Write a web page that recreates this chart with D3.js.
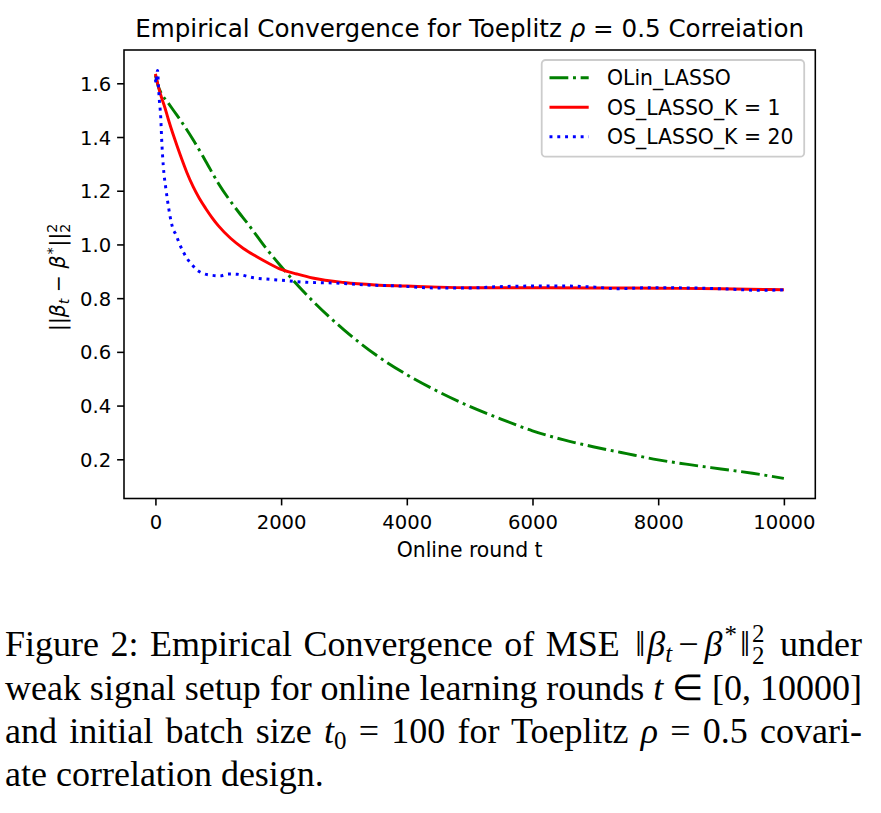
<!DOCTYPE html>
<html>
<head>
<meta charset="utf-8">
<script src="https://cdn.jsdelivr.net/npm/d3@7/dist/d3.min.js"></script>
<style>
  body { margin: 0; background: #ffffff; }
  svg { display: block; }
</style>
</head>
<body>
<svg id="chart" width="881" height="813"></svg>
<script>
// ---------------- DATA ----------------
const seriesNames = ["OLin_LASSO", "OS_LASSO_K = 1", "OS_LASSO_K = 20"];

const tOlin = [0, 50, 100, 200, 300, 400, 600, 800, 1000, 1250, 1500, 1750, 2000, 2500, 3000, 3500, 4000, 4500, 5000, 5500, 6000, 6500, 7000, 7500, 8000, 8500, 9000, 9500, 10000];
const olinLasso = [1.63, 1.585, 1.56, 1.528, 1.495, 1.462, 1.39, 1.31, 1.228, 1.143, 1.068, 0.989, 0.918, 0.79, 0.682, 0.59, 0.515, 0.452, 0.397, 0.35, 0.306, 0.272, 0.245, 0.221, 0.198, 0.18, 0.164, 0.148, 0.129];

const tK1 = [0, 50, 100, 150, 200, 300, 400, 500, 600, 700, 800, 900, 1000, 1200, 1400, 1600, 1800, 2000, 2250, 2500, 3000, 3500, 4000, 4500, 5000, 6000, 7000, 8000, 9000, 10000];
const osLassoK1 = [1.635, 1.585, 1.545, 1.51, 1.47, 1.397, 1.33, 1.268, 1.215, 1.171, 1.134, 1.1, 1.07, 1.022, 0.985, 0.956, 0.93, 0.907, 0.89, 0.875, 0.858, 0.849, 0.845, 0.841, 0.839, 0.839, 0.838, 0.837, 0.835, 0.831];

const tK20 = [0, 12, 24, 36, 46, 62, 84, 100, 126, 169, 216, 250, 285, 320, 380, 500, 600, 660, 750, 870, 1030, 1160, 1300, 1560, 1820, 2090, 2400, 2880, 3360, 3900, 4420, 5000, 5480, 6000, 6540, 7000, 7340, 7870, 8500, 9190, 9600, 10000];
const osLassoK20 = [1.615, 1.60, 1.64, 1.648, 1.60, 1.538, 1.476, 1.389, 1.29, 1.203, 1.128, 1.085, 1.054, 1.04, 1.004, 0.949, 0.92, 0.905, 0.893, 0.886, 0.883, 0.89, 0.889, 0.876, 0.87, 0.865, 0.859, 0.856, 0.849, 0.845, 0.838, 0.838, 0.843, 0.845, 0.845, 0.841, 0.835, 0.839, 0.838, 0.833, 0.829, 0.831];

const xTicks = [0, 2000, 4000, 6000, 8000, 10000];
const yTicks = [0.2, 0.4, 0.6, 0.8, 1.0, 1.2, 1.4, 1.6];

// ---------------- LAYOUT ----------------
const svg = d3.select("#chart");
const L = 124, R = 815.3, T = 50, B = 498.5;
const x = d3.scaleLinear().domain([-500, 10500]).range([L, R]);
const y = d3.scaleLinear().domain([0.054, 1.724]).range([B, T]);
const sans = "'DejaVu Sans', sans-serif";
const fs = 19.6, lfs = 20.4;

svg.append("rect").attr("width", 881).attr("height", 813).attr("fill", "#fff");

svg.append("clipPath").attr("id", "clip").append("rect")
  .attr("x", L).attr("y", T).attr("width", R - L).attr("height", B - T);

const series = [
  { t: tOlin, v: olinLasso, color: "#008000", dash: "18.8,4.7,2.94,4.7" },
  { t: tK1, v: osLassoK1, color: "#ff0000", dash: null },
  { t: tK20, v: osLassoK20, color: "#0000ff", dash: "2.94,4.85" }
];
const line = d3.line().x(d => x(d[0])).y(d => y(d[1])).curve(d3.curveMonotoneX);
const g = svg.append("g").attr("clip-path", "url(#clip)");
series.forEach(s => {
  const pts = s.t.map((t, i) => [t, s.v[i]]);
  const p = g.append("path").datum(pts).attr("d", line)
    .attr("fill", "none").attr("stroke", s.color).attr("stroke-width", 2.94)
    .attr("stroke-linejoin", "round");
  if (s.dash) p.attr("stroke-dasharray", s.dash);
});

const xAxis = d3.axisBottom(x).tickValues(xTicks).tickFormat(d3.format("d")).tickSize(6.9).tickPadding(9.5);
const yAxis = d3.axisLeft(y).tickValues(yTicks).tickFormat(d3.format(".1f")).tickSize(6.9).tickPadding(6);
const gx = svg.append("g").attr("transform", `translate(0,${B})`).call(xAxis);
const gy = svg.append("g").attr("transform", `translate(${L},0)`).call(yAxis);
[gx, gy].forEach(a => {
  a.select(".domain").remove();
  a.selectAll(".tick line").attr("stroke", "#000").attr("stroke-width", 1.57);
  a.selectAll(".tick text").attr("fill", "#000").style("font-family", sans).style("font-size", fs + "px");
});
gy.selectAll(".tick text").attr("dy", "0.36em");

svg.append("rect").attr("x", L).attr("y", T).attr("width", R - L).attr("height", B - T)
  .attr("fill", "none").attr("stroke", "#000").attr("stroke-width", 1.57);

// title
const title = svg.append("text").attr("x", (L + R) / 2).attr("y", 37).attr("text-anchor", "middle")
  .style("font-family", sans).style("font-size", "24.6px").attr("fill", "#000");
title.append("tspan").text("Empirical Convergence for Toeplitz ");
title.append("tspan").style("font-style", "italic").text("ρ");
title.append("tspan").text(" = 0.5 Correiation");

// x label
svg.append("text").attr("x", (L + R) / 2).attr("y", 556.5).attr("text-anchor", "middle")
  .style("font-family", sans).style("font-size", lfs + "px").attr("fill", "#000").text("Online round t");

// y label (math)
const yl = svg.append("text").attr("transform", `translate(65,${(T + B) / 2 + 3}) rotate(-90)`)
  .attr("text-anchor", "middle").style("font-family", sans).style("font-size", lfs + "px").attr("fill", "#000");
yl.append("tspan").text("||");
yl.append("tspan").style("font-style", "italic").text("β");
yl.append("tspan").style("font-style", "italic").style("font-size", "14.3px").attr("dy", 4).text("t");
yl.append("tspan").attr("dy", -4).text(" − ");
yl.append("tspan").style("font-style", "italic").text("β");
yl.append("tspan").style("font-size", "14.3px").attr("dy", -8).attr("dx", 1).text("*");
yl.append("tspan").attr("dy", 8).attr("dx", 1).text("||");
yl.append("tspan").style("font-size", "14.3px").attr("dy", -8).text("2");
yl.append("tspan").style("font-size", "14.3px").attr("dx", -9.1).attr("dy", 13).text("2");

// legend
const lg = svg.append("g");
lg.append("rect").attr("x", 541.7).attr("y", 60).attr("width", 262.5).attr("height", 96.7)
  .attr("rx", 4).attr("fill", "#fff").attr("fill-opacity", 0.8)
  .attr("stroke", "#cccccc").attr("stroke-width", 1.8);
const rowY = [77.7, 107.3, 136.8];
series.forEach((s, i) => {
  const ln = lg.append("line").attr("x1", 549.5).attr("x2", 588.7).attr("y1", rowY[i]).attr("y2", rowY[i])
    .attr("stroke", s.color).attr("stroke-width", 2.94);
  if (s.dash) ln.attr("stroke-dasharray", s.dash);
  lg.append("text").attr("x", 607).attr("y", rowY[i]).attr("dy", "0.36em")
    .style("font-family", sans).style("font-size", lfs + "px").attr("fill", "#000").text(seriesNames[i]);
});

// caption
const serif = "'Liberation Serif', 'Times New Roman', serif";
const cfs = 36, sfs = 25;
const capX = 5, capW = 857;
function capLine(yy, parts, justify) {
  const t = svg.append("text").attr("x", capX).attr("y", yy)
    .style("font-family", serif).style("font-size", cfs + "px").attr("fill", "#000");
  let dxSum = 0;
  parts.forEach(p => {
    const ts = t.append("tspan").text(p.s);
    if (p.i) ts.style("font-style", "italic");
    if (p.small) ts.style("font-size", sfs + "px");
    if (p.dy) ts.attr("dy", p.dy);
    if (p.dx) { ts.attr("dx", p.dx); dxSum += p.dx; }
  });
  if (justify) {
    const nat = t.node().getComputedTextLength();
    const txt = parts.map(p => p.s).join("");
    const n = (txt.match(/ /g) || []).length;
    if (n > 0) t.style("word-spacing", ((capW - nat - dxSum) / n) + "px");
  }
  return t;
}
capLine(656, [
  { s: "Figure 2: Empirical Convergence of MSE " },
  { s: "‖", dx: 4 },
  { s: "β", i: true, dx: 2 },
  { s: "t", i: true, small: true, dy: 6 },
  { s: "−", dy: -6, dx: 6 },
  { s: "β", i: true, dx: 6 },
  { s: "*", small: true, dy: -13, dx: 2 },
  { s: "‖", dy: 13, dx: 3 },
  { s: "2", small: true, dy: -14, dx: 2 },
  { s: "2", small: true, dx: -12.5, dy: 22 },
  { s: " under", dy: -8, dx: 4 }
], true);
capLine(700, [
  { s: "weak signal setup for online learning rounds " },
  { s: "t", i: true },
  { s: " ∈ [0, 10000]" }
], true);
capLine(743, [
  { s: "and initial batch size " },
  { s: "t", i: true },
  { s: "0", small: true, dy: 6 },
  { s: " = 100 for Toeplitz ", dy: -6 },
  { s: "ρ", i: true },
  { s: " = 0.5 covari-" }
], true);
capLine(786, [{ s: "ate correlation design." }], false);
</script>
</body>
</html>
